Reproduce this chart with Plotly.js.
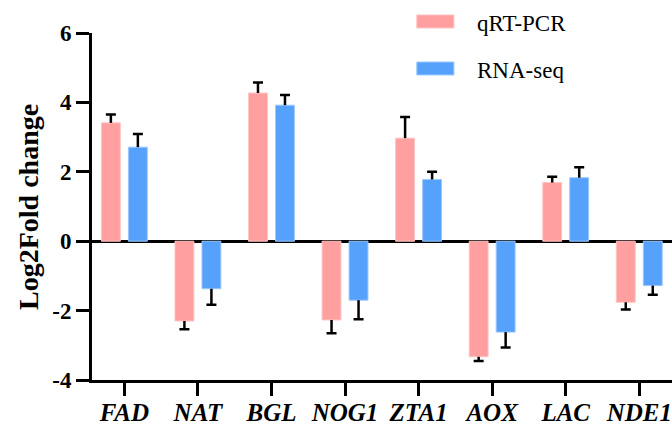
<!DOCTYPE html>
<html>
<head>
<meta charset="utf-8">
<script src="https://cdn.plot.ly/plotly-3.0.1.min.js"></script>
<style>html,body{margin:0;padding:0;background:#fff;}#chart{width:672px;height:425px;}</style>
</head>
<body>
<div id="chart"></div>
<script>
const genes = ['FAD', 'NAT', 'BGL', 'NOG1', 'ZTA1', 'AOX', 'LAC', 'NDE1'];
const seriesNames = ['qRT-PCR', 'RNA-seq'];
const qpcr = [3.41, -2.30, 4.27, -2.27, 2.97, -3.33, 1.69, -1.76];
const qpcrErr = [0.24, 0.24, 0.30, 0.38, 0.61, 0.12, 0.17, 0.21];
const rnaseq = [2.71, -1.37, 3.92, -1.70, 1.78, -2.62, 1.83, -1.28];
const rnaseqErr = [0.38, 0.46, 0.29, 0.55, 0.22, 0.44, 0.30, 0.26];
const yTickVals = [-4, -2, 0, 2, 4, 6];
const yTickText = ['-4', '-2', '0', '2', '4', '6'];
const yTitle = 'Log2Fold change';

const colors = ['#FF9F9F', '#56A1FB'];
const edgeColors = ['#FFC4C4', '#9CC8FC'];
const FONT = 'Liberation Serif, Times New Roman, serif';

function mainTrace(name, vals, errs, idx) {
  return {
    type: 'bar', name: name, x: genes, y: vals,
    offsetgroup: 'g' + idx,
    marker: {color: colors[idx], line: {color: edgeColors[idx], width: 1}},
    error_y: {
      type: 'data', symmetric: false,
      array: vals.map((v, i) => v >= 0 ? errs[i] : 0),
      arrayminus: vals.map((v, i) => v < 0 ? errs[i] : 0),
      width: 0, thickness: 2.5, color: '#000'
    },
    showlegend: false, hoverinfo: 'x+y'
  };
}
function capTrace(vals, errs, idx) {
  return {
    type: 'bar', x: genes,
    y: vals.map((v, i) => v >= 0 ? v + errs[i] : v - errs[i]),
    offsetgroup: 'g' + idx,
    marker: {color: 'rgba(0,0,0,0)', line: {width: 0}},
    error_y: {type: 'data', symmetric: false,
      array: vals.map(() => 0), arrayminus: vals.map(() => 0),
      width: 5, thickness: 2.5, color: '#000'},
    showlegend: false, hoverinfo: 'skip'
  };
}

const data = [
  mainTrace(seriesNames[0], qpcr, qpcrErr, 0),
  mainTrace(seriesNames[1], rnaseq, rnaseqErr, 1),
  capTrace(qpcr, qpcrErr, 0),
  capTrace(rnaseq, rnaseqErr, 1)
];

// legend drawn with shapes + annotations (wide swatches like the reference)
const legendY = [[1.0144, 1.052], [0.879, 0.9164]];
const legendTextY = [1.027, 0.891];
const shapes = seriesNames.map((n, i) => ({
  type: 'rect', xref: 'paper', yref: 'paper',
  x0: 0.560, x1: 0.624, y0: legendY[i][0], y1: legendY[i][1],
  fillcolor: colors[i], line: {color: edgeColors[i], width: 1}
}));
const annotations = seriesNames.map((n, i) => ({
  text: n, xref: 'paper', yref: 'paper', x: 0.660, y: legendTextY[i],
  xanchor: 'left', yanchor: 'middle', showarrow: false,
  font: {family: FONT, size: 23, color: '#000'}
}));
annotations.push({
  text: yTitle, xref: 'paper', yref: 'paper', x: -0.1095, y: 0.5,
  xanchor: 'center', yanchor: 'middle', textangle: -90, showarrow: false,
  font: {family: FONT, size: 28, color: '#000', weight: 'bold'}
});

const layout = {
  width: 672, height: 425,
  margin: {l: 92, r: 0, t: 33, b: 45},
  paper_bgcolor: '#fff', plot_bgcolor: '#fff',
  barmode: 'group', bargap: 0.266, bargroupgap: 0.3,
  showlegend: false,
  font: {family: FONT, color: '#000'},
  xaxis: {
    type: 'category', range: [-0.44, 7.445],
    showline: true, linewidth: 3, linecolor: '#000',
    ticks: 'outside', ticklen: 13, tickwidth: 3, tickcolor: '#000',
    ticklabelstandoff: -5,
    tickfont: {family: FONT, size: 25, color: '#000', weight: 'bold', style: 'italic'},
    showgrid: false, zeroline: false, fixedrange: true
  },
  yaxis: {
    range: [-4, 6], tickvals: yTickVals, ticktext: yTickText,
    showline: true, linewidth: 3, linecolor: '#000',
    ticks: 'outside', ticklen: 13, tickwidth: 3, tickcolor: '#000',
    tickfont: {family: FONT, size: 23, color: '#000', weight: 'bold'},
    showgrid: false, zeroline: true, zerolinewidth: 3, zerolinecolor: '#000',
    fixedrange: true
  },
  shapes: shapes,
  annotations: annotations
};

Plotly.newPlot('chart', data, layout, {displayModeBar: false, staticPlot: true});
</script>
</body>
</html>
